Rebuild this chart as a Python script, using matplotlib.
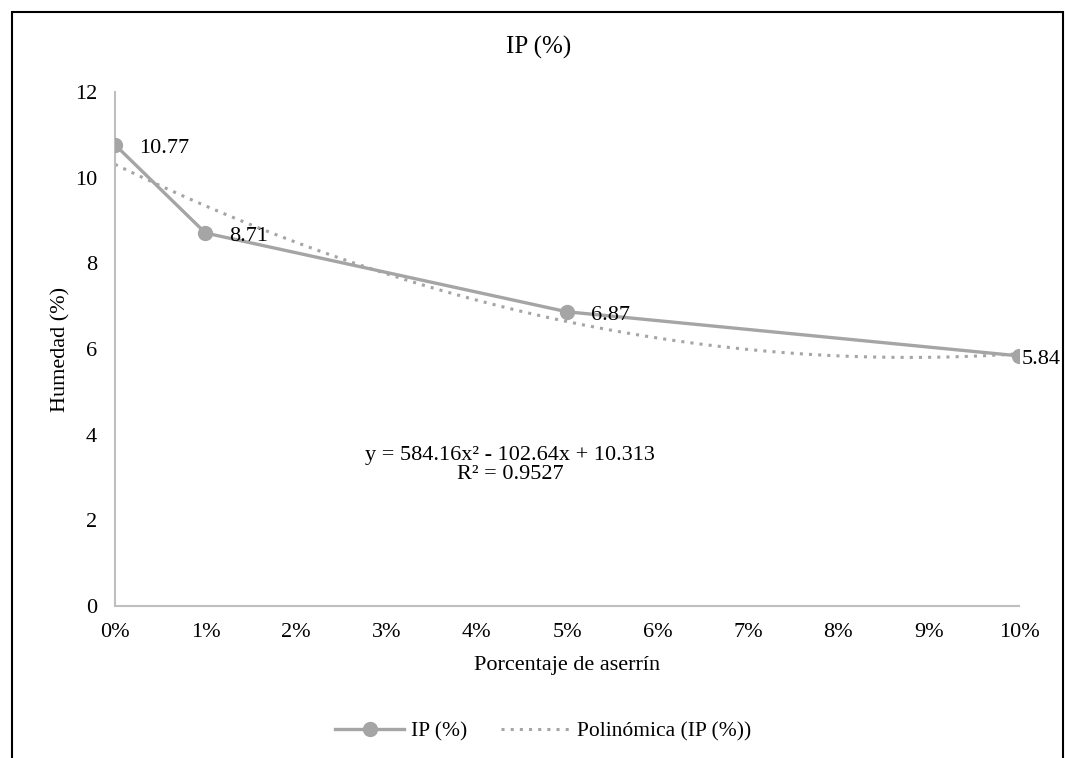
import matplotlib
matplotlib.use('Agg')
import matplotlib.pyplot as plt
import numpy as np
from matplotlib.ticker import PercentFormatter

# data
aserrin = [0.0, 0.01, 0.05, 0.10]
ip = [10.77, 8.71, 6.87, 5.84]
label_offsets = [(17, -2.5), (17, -2.5), (17, -2.5), (1.5, -2.5)]
x_ticks = np.arange(0, 0.101, 0.01)
y_ticks = [0, 2, 4, 6, 8, 10, 12]
ecuacion = 'y = 584.16x² - 102.64x + 10.313\nR² = 0.9527'

plt.rcParams['font.family'] = ['Liberation Serif', 'DejaVu Serif']
plt.rcParams['font.size'] = 16

gris = '#a5a5a5'
eje = '#bfbfbf'

fig = plt.figure(figsize=(10.65, 7.58), dpi=100)
ax = fig.add_axes([0.108, 0.2005, 0.849, 0.678])

# serie
ax.plot(aserrin, ip, color=gris, linewidth=2.4, marker='o', markersize=10,
        label='IP (%)', zorder=3)

# linea de tendencia polinomica de orden 2
coef = np.polyfit(aserrin, ip, 2)
xs = np.linspace(0, 0.10, 200)
ax.plot(xs, np.polyval(coef, xs), color=gris, linestyle=(0, (1, 2)),
        linewidth=2.2, label='Polinómica (IP (%))', zorder=2)

for x, y, off in zip(aserrin, ip, label_offsets):
    ax.annotate('%.2f' % y, (x, y), xytext=off, textcoords='offset points',
                ha='left', va='center', fontsize=16, annotation_clip=False)

ax.text(0.0437, 3.3, ecuacion, ha='center', va='center', fontsize=16,
        linespacing=1.0)

ax.set_xlim(0, 0.10)
ax.set_ylim(0, 12)
ax.set_xticks(x_ticks)
ax.set_yticks(y_ticks)
ax.xaxis.set_major_formatter(PercentFormatter(1.0, decimals=0))
ax.tick_params(axis='y', length=0, pad=13, labelsize=16)
ax.tick_params(axis='x', length=0, pad=12, labelsize=16)
for s in ['top', 'right']:
    ax.spines[s].set_visible(False)
for s in ['left', 'bottom']:
    ax.spines[s].set_color(eje)
    ax.spines[s].set_linewidth(1.5)

fig.text(0.506, 0.938, 'IP (%)', ha='center', va='center', fontsize=18)
ax.set_xlabel('Porcentaje de aserrín', fontsize=16, labelpad=10)
ax.set_ylabel('Humedad (%)', fontsize=16, labelpad=3)

ax.legend(loc='center', bbox_to_anchor=(0.51, 0.035), bbox_transform=fig.transFigure,
          ncol=2, frameon=False, fontsize=15.5, handlelength=3.2, handletextpad=0.3,
          columnspacing=1.6)

# marco exterior
fig.patches.append(plt.Rectangle((0.0113, -0.05), 0.987, 1.034, transform=fig.transFigure,
                                 fill=False, edgecolor='black', linewidth=1.5))

fig.savefig('out.png', dpi=100)
